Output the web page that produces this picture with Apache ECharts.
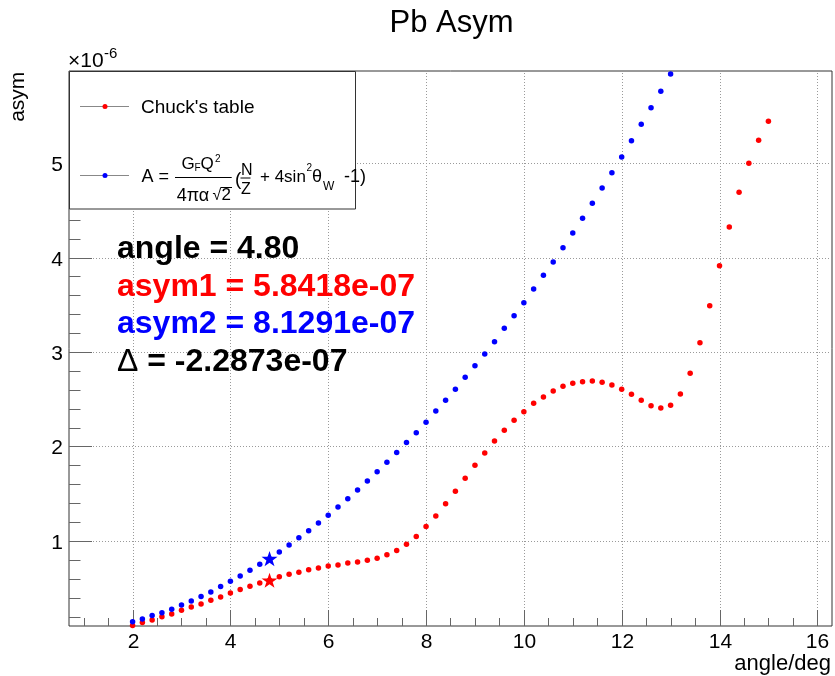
<!DOCTYPE html>
<html>
<head>
<meta charset="utf-8">
<script src="https://cdn.jsdelivr.net/npm/echarts@6/dist/echarts.min.js"></script>
<style>html,body{margin:0;padding:0;background:#fff}#c{width:835px;height:676px}</style>
</head>
<body>
<div id="c"></div>
<script>
// ---- data (asymmetry in units of 1e-6) ----
const ANGLES = [2.0,2.2,2.4,2.6,2.8,3.0,3.2,3.4,3.6,3.8,4.0,4.2,4.4,4.6,4.8,5.0,5.2,5.4,5.6,5.8,
  6.0,6.2,6.4,6.6,6.8,7.0,7.2,7.4,7.6,7.8,8.0,8.2,8.4,8.6,8.8,9.0,9.2,9.4,9.6,9.8,
  10.0,10.2,10.4,10.6,10.8,11.0,11.2,11.4,11.6,11.8,12.0,12.2,12.4,12.6,12.8,13.0,
  13.2,13.4,13.6,13.8,14.0,14.2,14.4,14.6,14.8,15.0];
const ASYM_CHUCK = [0.104,0.136,0.164,0.199,0.228,0.266,0.302,0.333,0.372,0.407,
  0.450,0.485,0.520,0.556,0.584,0.622,0.647,0.668,0.696,0.714,
  0.735,0.746,0.767,0.778,0.796,0.817,0.855,0.898,0.965,1.046,
  1.152,1.265,1.395,1.526,1.663,1.801,1.931,2.058,2.171,2.277,
  2.368,2.457,2.524,2.587,2.637,2.669,2.686,2.693,2.679,2.651,
  2.605,2.552,2.489,2.432,2.407,2.436,2.556,2.776,3.098,3.490,
  3.913,4.323,4.690,4.997,5.240,5.441];
const ASYM_FORMULA = [0.146,0.175,0.210,0.241,0.277,0.323,0.365,0.411,0.460,0.517,
  0.573,0.630,0.690,0.753,0.813,0.884,0.958,1.035,1.109,1.190,
  1.272,1.360,1.448,1.540,1.635,1.733,1.833,1.935,2.041,2.146,
  2.256,2.376,2.489,2.605,2.732,2.855,2.979,3.109,3.251,3.384,
  3.522,3.667,3.811,3.952,4.104,4.259,4.415,4.573,4.735,4.897,
  5.063,5.236,5.410,5.585,5.759,5.942];
const SEL_ANGLE = 4.80;
const SEL_ASYM1 = 0.58418;
const SEL_ASYM2 = 0.81291;

const X_MAJOR_TICKS = [2,4,6,8,10,12,14,16];
const X_TICK_LABELS = ['2','4','6','8','10','12','14','16'];
const X_MINOR_TICKS = [1,1.5,2.5,3,3.5,4.5,5,5.5,6.5,7,7.5,8.5,9,9.5,10.5,11,11.5,12.5,13,13.5,14.5,15,15.5];
const Y_MAJOR_TICKS = [1,2,3,4,5];
const Y_TICK_LABELS = ['1','2','3','4','5'];
const Y_MINOR_TICKS = [0.2,0.4,0.6,0.8,1.2,1.4,1.6,1.8,2.2,2.4,2.6,2.8,3.2,3.4,3.6,3.8,4.2,4.4,4.6,4.8,5.2,5.4,5.6,5.8];
const X_MIN = 0.7, X_MAX = 16.3, Y_MIN = 0.1, Y_MAX = 5.974;

const FONT = "'Liberation Sans', Arial, Helvetica, sans-serif";
const STAR = 'path://M50,0 L61.8,35.1 L98.9,35.1 L69,57 L80.3,92 L50,70.5 L19.7,92 L31,57 L1.1,35.1 L38.2,35.1 Z';

const chart = echarts.init(document.getElementById('c'), null, {renderer: 'canvas'});

function axesRender(params, api) {
  const c0 = api.coord([X_MIN, Y_MIN]);
  const c1 = api.coord([X_MAX, Y_MAX]);
  const x0 = c0[0], y0 = c0[1], x1 = c1[0], y1 = c1[1];
  const ch = [];
  const r = v => Math.round(v) + 0.5;
  const grid = {stroke: '#9a9a9a', lineWidth: 1, lineDash: [1, 2]};
  const tick = {stroke: '#666', lineWidth: 1};
  X_MAJOR_TICKS.forEach((v, i) => {
    const px = r(api.coord([v, Y_MIN])[0]);
    ch.push({type: 'line', shape: {x1: px, y1: y0, x2: px, y2: y1}, style: grid});
    ch.push({type: 'line', shape: {x1: px, y1: y0, x2: px, y2: y0 - 16}, style: tick});
    ch.push({type: 'text', x: px, y: y0 + 16, style: {text: X_TICK_LABELS[i], font: '21px ' + FONT, fill: '#000', align: 'center', verticalAlign: 'middle'}});
  });
  X_MINOR_TICKS.forEach(v => {
    const px = r(api.coord([v, Y_MIN])[0]);
    ch.push({type: 'line', shape: {x1: px, y1: y0, x2: px, y2: y0 - 8}, style: tick});
  });
  Y_MAJOR_TICKS.forEach((v, i) => {
    const py = r(api.coord([X_MIN, v])[1]);
    ch.push({type: 'line', shape: {x1: x0, y1: py, x2: x1, y2: py}, style: grid});
    ch.push({type: 'line', shape: {x1: x0, y1: py, x2: x0 + 23, y2: py}, style: tick});
    ch.push({type: 'text', x: x0 - 6, y: py + 1.5, style: {text: Y_TICK_LABELS[i], font: '21px ' + FONT, fill: '#000', align: 'right', verticalAlign: 'middle'}});
  });
  Y_MINOR_TICKS.forEach(v => {
    const py = r(api.coord([X_MIN, v])[1]);
    ch.push({type: 'line', shape: {x1: x0, y1: py, x2: x0 + 11.5, y2: py}, style: tick});
  });
  return {type: 'group', children: ch};
}

const t = (text, x, y, font, opts) => Object.assign({
  type: 'text', x: x, y: y, z: 120,
  style: Object.assign({text: text, font: (typeof font === 'number' ? font + 'px ' : font + ' ') + FONT, fill: '#000', align: 'left', verticalAlign: 'middle'}, opts || {})
});
const ln = (x1, y1, x2, y2, color) => ({type: 'line', z: 120, shape: {x1: x1, y1: y1, x2: x2, y2: y2}, style: {stroke: color || '#000', lineWidth: 1}});

chart.setOption({
  animation: false,
  grid: {left: 69, right: 3, top: 71, bottom: 50, show: true, borderColor: '#333', borderWidth: 1, backgroundColor: 'transparent'},
  xAxis: {type: 'value', min: X_MIN, max: X_MAX, show: false},
  yAxis: {type: 'value', min: Y_MIN, max: Y_MAX, show: false},
  series: [
    {type: 'custom', renderItem: axesRender, data: [[X_MIN, Y_MIN]], clip: false, silent: true, z: 1},
    {type: 'scatter', name: "Chuck's table", data: ANGLES.map((a, i) => [a, ASYM_CHUCK[i]]),
     symbol: 'circle', symbolSize: 5.5, itemStyle: {color: '#ff0000', opacity: 1}, z: 3, silent: true},
    {type: 'scatter', name: 'formula', data: ASYM_FORMULA.map((v, i) => [ANGLES[i], v]),
     symbol: 'circle', symbolSize: 5.5, itemStyle: {color: '#0000ff', opacity: 1}, z: 3, silent: true},
    {type: 'scatter', data: [[SEL_ANGLE, SEL_ASYM1]], symbol: STAR, symbolSize: 16, symbolKeepAspect: true,
     itemStyle: {color: '#ff0000', opacity: 1}, z: 4, silent: true},
    {type: 'scatter', data: [[SEL_ANGLE, SEL_ASYM2]], symbol: STAR, symbolSize: 16, symbolKeepAspect: true,
     itemStyle: {color: '#0000ff', opacity: 1}, z: 4, silent: true}
  ],
  graphic: [
    t('Pb Asym', 451.5, 23.5, 31, {align: 'center'}),
    {type: 'text', x: 18.7, y: 71.7, rotation: Math.PI / 2, z: 120,
     style: {text: 'asym', font: '21px ' + FONT, fill: '#000', align: 'right', verticalAlign: 'middle'}},
    t('\u00d710', 68, 61, 21),
    t('-6', 104, 54, 15),
    t('angle/deg', 831, 664, 22, {align: 'right'}),
    // legend
    {type: 'rect', z: 110, shape: {x: 69.5, y: 71.5, width: 286, height: 137.5}, style: {fill: '#fff', stroke: '#333', lineWidth: 1}},
    ln(80, 106.5, 129, 106.5, '#888'),
    {type: 'circle', z: 121, shape: {cx: 105, cy: 106.5, r: 2.5}, style: {fill: '#ff0000'}},
    t("Chuck's table", 141, 107.3, 19),
    ln(80, 175.5, 129, 175.5, '#888'),
    {type: 'circle', z: 121, shape: {cx: 105, cy: 175.5, r: 2.5}, style: {fill: '#0000ff'}},
    t('A =', 141.5, 177, 18),
    t('G', 181.5, 164, 17),
    t('F', 194.5, 168.5, 10),
    t('Q', 200.5, 164, 17),
    t('2', 215, 159.5, 10),
    ln(175, 177.5, 231.7, 177.5, '#000'),
    t('4\u03c0\u03b1', 176.7, 195.7, 18),
    t('\u221a', 212.5, 196, 16),
    ln(221, 187.5, 232, 187.5, '#000'),
    t('2', 221.5, 195.7, 17),
    t('(', 235, 179.5, 19),
    t('N', 241, 171, 16),
    ln(240.5, 178, 250.5, 178, '#000'),
    t('Z', 241, 189.3, 16),
    t('+ 4sin', 260, 177, 17),
    t('2', 306.5, 168.5, 10),
    t('\u03b8', 312, 177, 18),
    t('W', 323, 186.3, 12),
    t('-1)', 344, 177, 18),
    // annotations
    t('angle = 4.80', 117, 249, 'bold 32px'),
    t('asym1 = 5.8418e-07', 117, 287, 'bold 32px', {fill: '#ff0000'}),
    t('asym2 = 8.1291e-07', 117, 324.5, 'bold 32px', {fill: '#0000ff'}),
    {type: 'text', x: 117, y: 362, z: 120, style: {
      text: '{d|\u0394}{b| = -2.2873e-07}', verticalAlign: 'middle', align: 'left',
      rich: {d: {font: '32px ' + FONT, fill: '#000'}, b: {font: 'bold 32px ' + FONT, fill: '#000'}}}}
  ]
});
</script>
</body>
</html>
